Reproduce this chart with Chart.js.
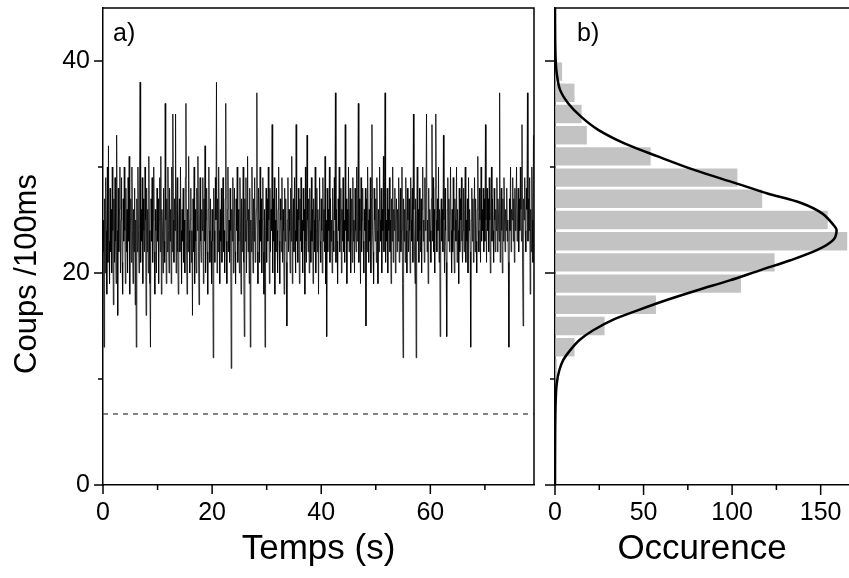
<!DOCTYPE html>
<html>
<head>
<meta charset="utf-8">
<title>Coups /100ms</title>
<script src="https://cdn.jsdelivr.net/npm/chart.js@4.4.0/dist/chart.umd.min.js"></script>
<style>
  html, body { margin: 0; padding: 0; background: #fff; overflow: hidden; }
  #wrap { position: relative; width: 849px; height: 578px; }
  canvas { position: absolute; top: 0; }
  #chartA { left: 0; }
  #chartB { left: 535px; }
</style>
</head>
<body>
<div id="wrap">
  <canvas id="chartA" width="545" height="578"></canvas>
  <canvas id="chartB" width="314" height="578"></canvas>
</div>
<script>
// a) counts per 100 ms, one value every 0.1 s
const sampleStep = 0.1;
const counts = [
  22,25,13,27,20,29,24,18,30,21,32,23,19,28,22,26,20,30,24,17,
  27,21,29,23,19,33,24,16,28,22,26,30,20,25,29,21,18,27,23,30,
  24,19,28,22,26,20,29,23,31,18,25,27,21,30,24,19,26,22,28,17,
  25,13,27,22,30,24,20,28,38,21,26,23,29,19,27,24,22,30,25,16,
  28,22,26,20,31,24,19,13,27,23,29,21,25,30,22,18,26,24,20,28,
  23,27,19,25,29,22,31,18,26,24,20,28,23,21,36,25,19,27,22,30,
  24,20,28,23,26,19,30,22,35,25,21,27,24,35,20,26,29,22,18,25,
  27,22,30,24,19,26,23,28,21,25,20,29,36,23,18,26,22,31,24,20,
  25,28,21,24,16,27,22,30,19,26,23,20,28,24,31,22,17,25,29,23,
  21,26,24,29,19,27,23,32,20,25,28,22,18,26,30,24,21,27,23,19,
  26,23,12,28,24,21,29,25,38,20,27,22,30,24,19,26,23,28,21,25,
  29,22,24,20,27,36,23,19,26,30,22,25,21,28,24,11,26,23,29,20,
  25,28,22,19,27,24,30,21,26,23,20,29,24,18,27,22,25,30,21,14,
  27,23,29,20,25,31,22,26,19,28,13,25,22,30,24,20,27,23,29,21,
  24,26,37,22,19,28,25,21,30,23,27,20,25,29,22,18,26,13,24,28,
  21,27,23,30,25,19,28,22,26,24,34,20,27,23,29,18,25,22,28,24,
  20,26,30,23,19,27,25,22,29,21,26,24,18,28,23,27,21,15,25,29,
  22,26,24,20,28,23,31,19,25,27,22,29,24,20,34,23,26,21,28,25,
  19,27,23,29,22,25,20,28,24,26,18,30,23,21,33,25,22,27,20,28,
  24,21,29,23,26,19,27,25,22,30,20,24,28,22,26,18,25,29,23,21,
  27,24,20,29,23,26,22,31,19,25,14,28,22,26,24,30,21,27,23,25,
  20,28,24,22,29,25,37,21,26,23,19,27,24,30,22,25,28,20,26,23,
  29,22,25,21,34,24,27,19,26,23,30,22,25,28,20,24,27,21,29,23,
  25,20,28,24,22,30,23,26,36,21,27,24,19,29,22,25,28,23,20,26,
  24,28,15,27,22,30,25,21,26,23,29,20,27,34,24,22,19,28,25,23,
  27,21,29,24,19,26,22,30,25,23,28,20,26,24,31,22,27,37,21,25,
  23,28,20,26,24,29,22,25,19,27,23,30,21,26,24,28,20,25,27,22,
  26,23,29,21,25,28,22,24,30,19,12,27,23,26,21,29,24,20,28,25,
  22,27,24,20,29,25,23,28,21,35,26,22,19,27,12,25,30,23,26,21,
  28,24,22,27,20,26,30,23,25,21,29,24,27,35,22,25,19,28,23,26,
  24,21,27,34,23,29,22,26,20,28,35,25,22,27,24,30,21,26,14,25,
  27,23,26,22,33,25,20,28,24,21,14,26,29,23,27,22,25,30,24,20,
  26,22,29,24,20,27,25,23,30,21,26,24,19,28,22,27,25,29,23,21,
  24,28,22,26,30,21,25,23,27,20,29,24,26,22,13,25,28,23,27,21,
  25,29,22,27,23,20,26,31,24,22,28,25,21,30,23,26,24,28,22,27,
  23,34,25,21,28,24,27,22,29,25,20,26,30,23,27,24,21,28,25,22,
  26,24,29,22,27,25,23,37,21,26,28,24,20,27,23,29,25,22,26,24,
  28,23,25,21,13,27,24,30,22,26,25,29,23,27,21,28,24,26,30,23,
  25,28,22,27,24,30,26,23,34,21,15,27,25,29,24,22,28,26,37,23,
  27,24,29,18,26,22,30,25,21,33
];
// dashed background level
const levelTime = [0, 79];
const levelCounts = [6.7, 6.7];

// b) histogram of the counts
const binCenters = [39, 37, 35, 33, 31, 29, 27, 25, 23, 21, 19, 17, 15, 13, 11];
const binOccurrence = [4, 11, 15, 18, 54, 103, 117, 154, 165, 124, 105, 57, 28, 11, 1];
// fitted curve
const fitCounts = [45, 42, 40, 38.8, 37.3, 36, 34.7, 33.5, 32.2, 31, 29.7, 28.5, 27.5, 26.6, 25.6, 24.5, 24,
  23.1, 22.2, 21.2, 20.3, 19.3, 18.4, 17.5, 16.5, 15.6, 14.6, 13.7, 12.7, 11.8, 10.8, 9.6, 8, 5, 0];
const fitOccurrence = [0, 0.1, 0.4, 1.0, 2.8, 7.5, 15, 24.4, 39.5, 58, 79, 101.5, 120, 139, 151, 157.4, 159,
  157, 148.4, 133, 116.5, 98.6, 80.8, 63.9, 47, 32.9, 21.6, 14, 8.5, 4.7, 2.4, 1, 0.4, 0.1, 0];

const timeLabels = [0, 20, 40, 60];
const countLabels = [0, 20, 40];
const occLabels = [0, 50, 100, 150];

const FONT = '"Liberation Sans", Arial, sans-serif';

// box top/right, panel letter, optional rotated y title
const frame = {
  id: 'frame',
  afterDraw(chart, args, opts) {
    const ctx = chart.ctx;
    const a = chart.chartArea;
    ctx.save();
    ctx.strokeStyle = '#000';
    ctx.lineWidth = 1.5;
    ctx.beginPath();
    ctx.moveTo(a.left, a.top);
    ctx.lineTo(a.right, a.top);
    if (opts.right) ctx.lineTo(a.right, a.bottom);
    ctx.stroke();
    ctx.fillStyle = '#000';
    ctx.font = '25px ' + FONT;
    ctx.fillText(opts.letter, a.left + opts.dx, a.top + 33);
    if (opts.yTitle) {
      ctx.translate(opts.yTitle.x, opts.yTitle.y);
      ctx.rotate(-Math.PI / 2);
      ctx.font = '31px ' + FONT;
      ctx.textAlign = 'center';
      ctx.textBaseline = 'alphabetic';
      ctx.fillText(opts.yTitle.text, 0, 0);
    }
    ctx.restore();
  }
};

// outward ticks, long on labelled values, short otherwise
const tickMarks = {
  id: 'tickMarks',
  afterDraw(chart, args, opts) {
    const ctx = chart.ctx;
    ctx.save();
    ctx.strokeStyle = '#000';
    ctx.lineWidth = 1.5;
    ['x', 'y'].forEach(id => {
      const sc = chart.scales[id];
      sc.ticks.forEach(t => {
        const len = t.value % opts[id] === 0 ? opts.long : 5;
        const p = sc.getPixelForValue(t.value);
        ctx.beginPath();
        if (id === 'x') { ctx.moveTo(p, sc.top); ctx.lineTo(p, sc.top + len); }
        else { ctx.moveTo(sc.right, p); ctx.lineTo(sc.right - len, p); }
        ctx.stroke();
      });
    });
    ctx.restore();
  }
};

// fixed axis sizes, no automatic label padding
function fixSize(w, h) {
  return s => {
    if (w) s.width = w;
    if (h) s.height = h;
    s.paddingTop = 0; s.paddingBottom = 0;
    s.paddingLeft = 0; s.paddingRight = 0;
  };
}

const tickFont = { family: FONT, size: 25 };
const xTitleFont = { family: FONT, size: 35 };

const timeSeries = counts.map((c, i) => ({ x: i * sampleStep, y: c }));
const levelLine = levelTime.map((t, i) => ({ x: t, y: levelCounts[i] }));

new Chart(document.getElementById('chartA'), {
  type: 'line',
  data: {
    datasets: [{
      data: timeSeries,
      borderColor: '#000',
      borderWidth: 0.8,
      pointRadius: 0,
      tension: 0
    }, {
      data: levelLine,
      borderColor: '#333',
      borderWidth: 1.2,
      borderDash: [5, 5],
      pointRadius: 0
    }]
  },
  options: {
    responsive: false,
    animation: false,
    layout: { autoPadding: false, padding: { top: 8, right: 11 } },
    plugins: {
      legend: { display: false },
      tooltip: { enabled: false },
      frame: { right: true, letter: 'a)', dx: 10, yTitle: { text: 'Coups /100ms', x: 36, y: 274 } },
      tickMarks: { x: 20, y: 20, long: 9 }
    },
    scales: {
      x: {
        type: 'linear', min: 0, max: 79,
        grid: { drawOnChartArea: false, drawTicks: false },
        border: { color: '#000', width: 1.5 },
        ticks: {
          stepSize: 10, includeBounds: false, autoSkip: false, maxRotation: 0,
          padding: 13, color: '#000', font: tickFont,
          callback: v => timeLabels.includes(v) ? v : ''
        },
        title: { display: true, text: 'Temps (s)', color: '#000', font: xTitleFont, padding: { top: 0, bottom: 8 } },
        afterFit: fixSize(0, 93)
      },
      y: {
        type: 'linear', min: 0, max: 45,
        grid: { drawOnChartArea: false, drawTicks: false },
        border: { color: '#000', width: 1.5 },
        ticks: {
          stepSize: 10, includeBounds: false, autoSkip: false,
          padding: 13, color: '#000', font: tickFont,
          callback: v => countLabels.includes(v) ? v : ''
        },
        afterFit: fixSize(103, 0)
      }
    }
  },
  plugins: [frame, tickMarks]
});

const histBars = binCenters.map((c, i) => ({ x: binOccurrence[i], y: c }));
const fitLine = fitCounts.map((c, i) => ({ x: fitOccurrence[i], y: c }));

new Chart(document.getElementById('chartB'), {
  type: 'bar',
  data: {
    datasets: [{
      type: 'line',
      indexAxis: 'y',
      data: fitLine,
      borderColor: '#000',
      borderWidth: 2.5,
      pointRadius: 0,
      tension: 0.3,
      order: 0
    }, {
      data: histBars,
      backgroundColor: '#c3c3c3',
      borderWidth: 0,
      categoryPercentage: 1,
      barPercentage: 0.87,
      order: 1
    }]
  },
  options: {
    indexAxis: 'y',
    responsive: false,
    animation: false,
    layout: { autoPadding: false, padding: { top: 8, right: 0 } },
    plugins: {
      legend: { display: false },
      tooltip: { enabled: false },
      frame: { right: false, letter: 'b)', dx: 22 },
      tickMarks: { x: 50, y: 20, long: 10 }
    },
    scales: {
      x: {
        type: 'linear', min: 0, max: 166,
        grid: { drawOnChartArea: false, drawTicks: false },
        border: { color: '#000', width: 1.5 },
        ticks: {
          stepSize: 25, includeBounds: false, autoSkip: false, maxRotation: 0,
          padding: 13, color: '#000', font: tickFont,
          callback: v => occLabels.includes(v) ? v : ''
        },
        title: { display: true, text: 'Occurence', color: '#000', font: xTitleFont, padding: { top: 0, bottom: 8 } },
        afterFit: fixSize(0, 93)
      },
      y: {
        type: 'linear', min: 0, max: 45, offset: false,
        grid: { drawOnChartArea: false, drawTicks: false, offset: false },
        border: { color: '#000', width: 1.5 },
        ticks: { stepSize: 10, includeBounds: false, display: false },
        afterFit: fixSize(20, 0)
      }
    }
  },
  plugins: [frame, tickMarks]
});
</script>
</body>
</html>
